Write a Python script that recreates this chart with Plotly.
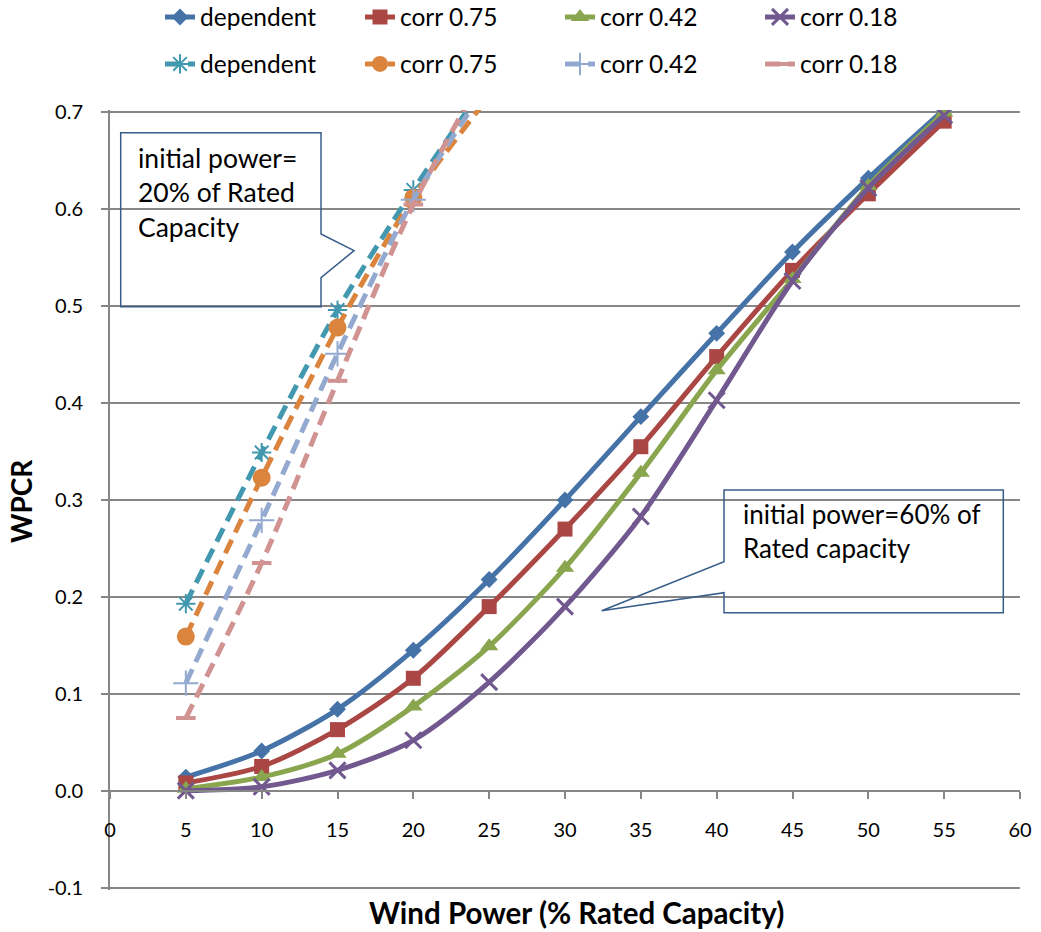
import plotly.graph_objects as go

# ---------------- data ----------------
wind_power = [5, 10, 15, 20, 25, 30, 35, 40, 45, 50, 55]

# initial power = 60% of rated capacity (solid)
dependent_60 = [0.014, 0.041, 0.084, 0.145, 0.218, 0.300, 0.386, 0.472, 0.556, 0.632, 0.703]
corr075_60 = [0.008, 0.025, 0.063, 0.116, 0.190, 0.270, 0.355, 0.448, 0.537, 0.616, 0.691]
corr042_60 = [0.002, 0.014, 0.038, 0.087, 0.149, 0.230, 0.328, 0.434, 0.528, 0.624, 0.700]
corr018_60 = [0.000, 0.004, 0.021, 0.052, 0.112, 0.190, 0.283, 0.403, 0.526, 0.622, 0.697]

# initial power = 20% of rated capacity (dashed)
wind_power_20 = [5, 10, 15, 20, 25]
dependent_20 = [0.193, 0.349, 0.496, 0.620, 0.735]
corr075_20 = [0.159, 0.323, 0.478, 0.612, 0.717]
corr042_20 = [0.111, 0.279, 0.451, 0.610, 0.731]
corr018_20 = [0.075, 0.235, 0.423, 0.605, 0.749]

series_names = ["dependent", "corr 0.75", "corr 0.42", "corr 0.18"]

x_ticks = [0, 5, 10, 15, 20, 25, 30, 35, 40, 45, 50, 55, 60]
y_ticks = [-0.1, 0.0, 0.1, 0.2, 0.3, 0.4, 0.5, 0.6, 0.7]
y_tick_text = ["-0.1", "0.0", "0.1", "0.2", "0.3", "0.4", "0.5", "0.6", "0.7"]

# ---------------- styling ----------------
W, H = 1041, 932
ML, MR, MT, MB = 110, 21, 110, 42
PW, PH = W - ML - MR, H - MT - MB
Y_RANGE = [-0.1025, 0.7025]
X_AXIS_POS = (0 - Y_RANGE[0]) / (Y_RANGE[1] - Y_RANGE[0])

FONT = "Lato, 'Open Sans', sans-serif"
GRID = "#868686"

solid_colors = ["#4572A7", "#AA4643", "#89A54E", "#71588F"]
dash_colors = ["#4198AF", "#DB843D", "#93A9CF", "#D19392"]

solid_markers = [
    dict(symbol="diamond", size=13),
    dict(symbol="square", size=15),
    dict(symbol="triangle-up", size=16),
    dict(symbol="x-thin-open", size=16, line=dict(width=3)),
]
dash_markers = [
    dict(symbol="asterisk-open", size=16, line=dict(width=2)),
    dict(symbol="circle", size=18),
    dict(symbol="cross-thin-open", size=18, line=dict(width=2)),
    dict(symbol="line-ew-open", size=14, line=dict(width=4)),
]


def px_x(x):
    return (x - ML) / PW


def px_y(y):
    return (H - MB - y) / PH


fig = go.Figure()

for name, ys, col, mk in zip(series_names,
                             [dependent_60, corr075_60, corr042_60, corr018_60],
                             solid_colors, solid_markers):
    m = dict(mk)
    m["color"] = col
    if "line" in m:
        m["line"] = dict(m["line"], color=col)
    fig.add_trace(go.Scatter(
        x=wind_power, y=ys, name=name, mode="lines+markers",
        line=dict(color=col, width=5, shape="spline", smoothing=0.8),
        marker=m, legend="legend",
    ))

for name, ys, col, mk in zip(series_names,
                             [dependent_20, corr075_20, corr042_20, corr018_20],
                             dash_colors, dash_markers):
    m = dict(mk)
    m["color"] = col
    if "line" in m:
        m["line"] = dict(m["line"], color=col)
    fig.add_trace(go.Scatter(
        x=wind_power_20, y=ys, name=name, mode="lines+markers",
        line=dict(color=col, width=5, dash="15px,8px", shape="spline", smoothing=0.8),
        marker=m, legend="legend2",
    ))

# callout shapes (pixel geometry converted to paper coordinates)
c1 = [(120.7, 132.7), (321, 132.7), (321, 234), (354, 250.7), (321, 277.7),
      (321, 306.7), (120.7, 306.7)]
c2 = [(724, 490), (1003.3, 490), (1003.3, 612.7), (724, 612.7), (724, 592.7),
      (601.7, 610.7), (724, 561.7)]
for pts in (c1, c2):
    path = "M" + " L".join(f"{px_x(x):.5f},{px_y(y):.5f}" for x, y in pts) + " Z"
    fig.add_shape(type="path", path=path, xref="paper", yref="paper",
                  line=dict(color="#385D8A", width=1.5), fillcolor="rgba(0,0,0,0)")

fig.add_annotation(text="initial power=<br>20% of Rated<br>Capacity",
                   xref="paper", yref="paper", x=px_x(137), y=px_y(141),
                   xanchor="left", yanchor="top", align="left", showarrow=False,
                   borderpad=0, font=dict(family=FONT, size=26.5, color="black"))
fig.add_annotation(text="initial power=60% of<br>Rated capacity",
                   xref="paper", yref="paper", x=px_x(742), y=px_y(497),
                   xanchor="left", yanchor="top", align="left", showarrow=False,
                   borderpad=0, font=dict(family=FONT, size=26, color="black"))

# axis titles
fig.add_annotation(text="<b>Wind Power (% Rated Capacity)</b>", xref="paper", yref="paper",
                   x=px_x(576), y=px_y(913), xanchor="center", yanchor="middle",
                   showarrow=False, font=dict(family=FONT, size=29.5, color="black"))
fig.add_annotation(text="<b>WPCR</b>", xref="paper", yref="paper",
                   x=px_x(21), y=px_y(501), xanchor="center", yanchor="middle",
                   textangle=-90, showarrow=False,
                   font=dict(family=FONT, size=28, color="black"))

legend_common = dict(orientation="h", xref="container", yref="container",
                     xanchor="left", yanchor="middle",
                     entrywidth=155, entrywidthmode="pixels",
                     font=dict(family=FONT, size=24.5, color="black"),
                     bgcolor="rgba(0,0,0,0)", borderwidth=0)

fig.update_layout(
    width=W, height=H,
    margin=dict(l=ML, r=MR, t=MT, b=MB, autoexpand=False),
    paper_bgcolor="white", plot_bgcolor="white",
    font=dict(family=FONT, color="black"),
    legend=dict(legend_common, x=160 / W, y=1 - 17 / H),
    legend2=dict(legend_common, x=160 / W, y=1 - 64 / H),
    xaxis=dict(range=[0, 60], tickvals=x_ticks, showgrid=False, zeroline=False,
               anchor="free", position=X_AXIS_POS,
               showline=True, linecolor=GRID, linewidth=2,
               ticks="outside", ticklen=7, tickwidth=1.5, tickcolor=GRID,
               ticklabelstandoff=14,
               tickfont=dict(family=FONT, size=20, color="black")),
    yaxis=dict(range=Y_RANGE, tickvals=y_ticks, ticktext=y_tick_text,
               showgrid=True, gridcolor=GRID, gridwidth=1.5, zeroline=False,
               showline=True, linecolor=GRID, linewidth=2,
               ticks="outside", ticklen=7, tickwidth=1.5, tickcolor=GRID,
               ticklabelstandoff=14,
               tickfont=dict(family=FONT, size=20, color="black")),
)

fig.write_html("out.html")
